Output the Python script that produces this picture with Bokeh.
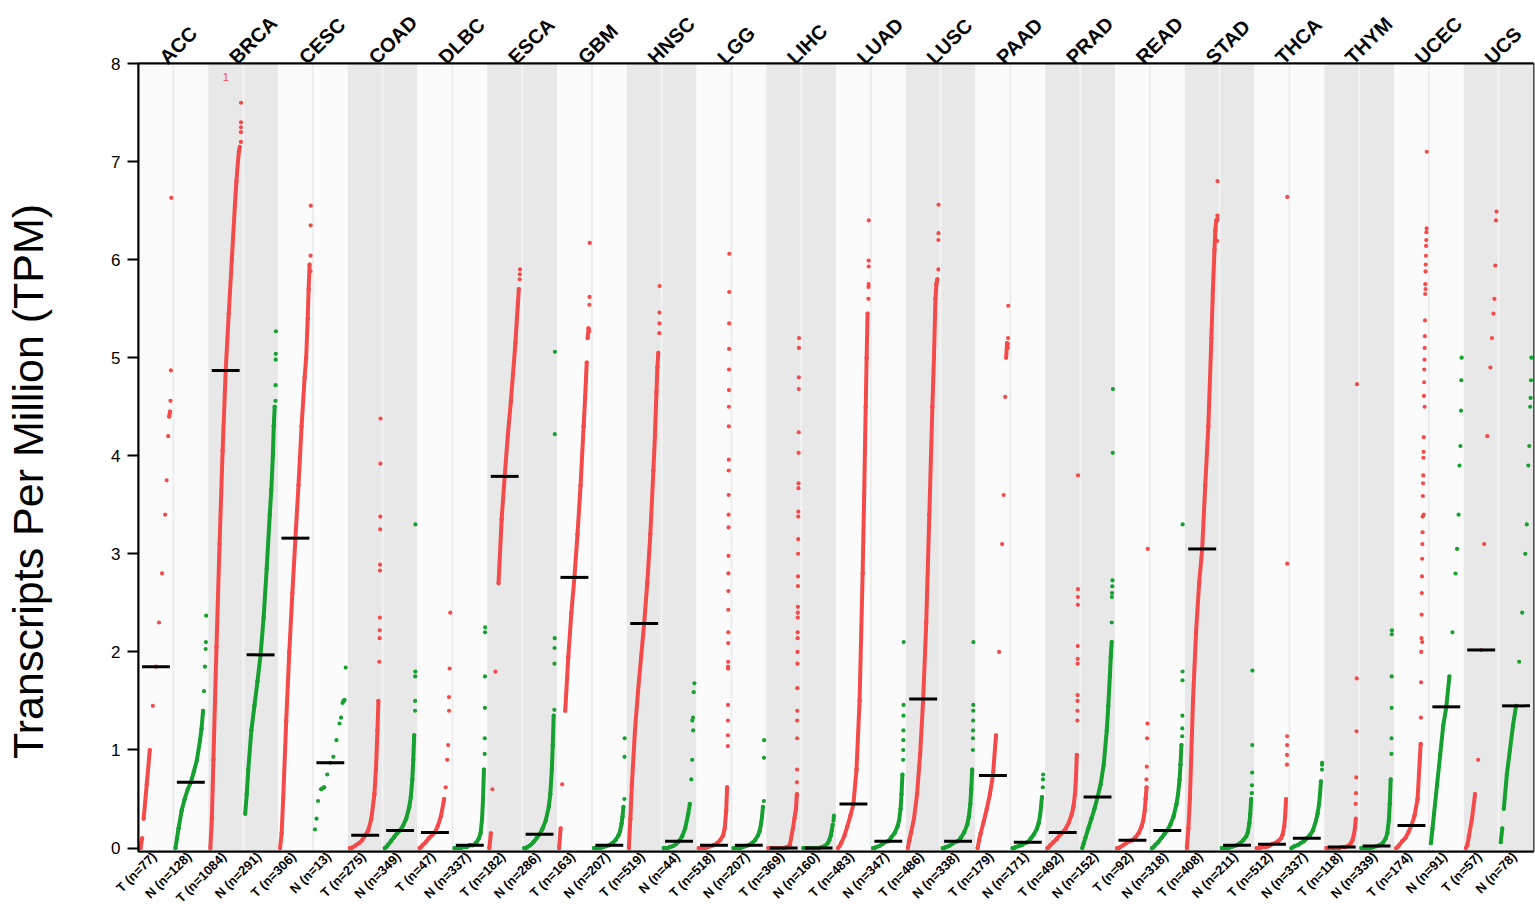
from math import pi
from bokeh.plotting import figure
from bokeh.models import FixedTicker, LinearAxis, Range1d
from bokeh.embed import file_html
from bokeh.resources import INLINE

cancers = ["ACC", "BRCA", "CESC", "COAD", "DLBC", "ESCA", "GBM", "HNSC", "LGG", "LIHC",
           "LUAD", "LUSC", "PAAD", "PRAD", "READ", "STAD", "THCA", "THYM", "UCEC", "UCS"]
n_tumor = [77, 1084, 306, 275, 47, 182, 163, 519, 518, 369, 483, 486, 179, 492, 92, 408, 512, 118, 174, 57]
n_normal = [128, 291, 13, 349, 337, 286, 207, 44, 207, 160, 347, 338, 171, 152, 318, 211, 337, 339, 91, 78]
median_tumor = [1.85, 4.87, 3.16, 0.13, 0.16, 3.79, 2.76, 2.29, 0.03, 0.0, 0.45, 1.52, 0.74, 0.16, 0.08, 3.05, 0.04, 0.01, 0.23, 2.02]
median_normal = [0.67, 1.97, 0.87, 0.18, 0.03, 0.14, 0.03, 0.07, 0.03, 0.0, 0.07, 0.07, 0.06, 0.52, 0.18, 0.03, 0.1, 0.02, 1.44, 1.45]

rank_fracs = [0, 0.05, 0.1, 0.2, 0.3, 0.4, 0.5, 0.6, 0.7, 0.8, 0.85, 0.9, 0.93, 0.96]

ACC_T = [0, 0.1, 0.3, 0.65, 1.0, 1.45, 1.85, 2.3, 2.8, 3.4, 3.75, 4.2, 4.4, 4.45]
ACC_T_top = [6.63, 4.87, 4.56]
ACC_N = [0, 0.1, 0.2, 0.38, 0.5, 0.6, 0.67, 0.78, 0.9, 1.1, 1.22, 1.4, 1.6, 1.85]
ACC_N_top = [2.37, 2.1, 2.03]
BRCA_T = [0, 0.3, 0.9, 2.05, 3.1, 4.05, 4.87, 5.45, 6.0, 6.55, 6.8, 7.0, 7.1, 7.15]
BRCA_T_top = [7.6, 7.4, 7.35, 7.3, 7.2]
BRCA_N = [0.35, 0.55, 0.8, 1.2, 1.45, 1.7, 1.97, 2.35, 2.85, 3.4, 3.65, 4.0, 4.3, 4.5]
BRCA_N_top = [5.27, 5.04, 4.98, 4.72, 4.56]
CESC_T = [0, 0.15, 0.5, 1.3, 2.0, 2.6, 3.16, 3.7, 4.3, 4.8, 5.0, 5.4, 5.7, 5.95]
CESC_T_top = [6.55, 6.35, 6.04, 5.88]
CESC_N = [0.19, 0.3, 0.48, 0.6, 0.62, 0.75, 0.87, 0.93, 1.1, 1.27, 1.33, 1.48, 1.5, 1.51]
CESC_N_top = [1.84]
COAD_T = [0, 0, 0.01, 0.03, 0.05, 0.08, 0.13, 0.18, 0.3, 0.55, 0.8, 1.2, 1.5, 1.9]
COAD_T_top = [4.38, 3.92, 3.38, 3.25, 2.89, 2.83, 2.35, 2.22, 2.14]
COAD_N = [0, 0.01, 0.03, 0.07, 0.11, 0.15, 0.18, 0.23, 0.3, 0.42, 0.52, 0.7, 0.9, 1.15]
COAD_N_top = [3.3, 1.8, 1.75, 1.5, 1.4]
DLBC_T = [0, 0.01, 0.03, 0.06, 0.1, 0.13, 0.16, 0.23, 0.33, 0.5, 0.62, 0.9, 1.05, 1.4]
DLBC_T_top = [2.4, 1.83, 1.54]
DLBC_N = [0, 0, 0, 0, 0.01, 0.01, 0.03, 0.03, 0.05, 0.1, 0.15, 0.3, 0.5, 0.8]
DLBC_N_top = [2.25, 2.2, 1.75, 1.43, 1.12, 0.96]
ESCA_T = [0, 0.15, 0.6, 1.8, 2.7, 3.35, 3.79, 4.2, 4.55, 4.95, 5.15, 5.4, 5.55, 5.7]
ESCA_T_top = [5.9, 5.85, 5.8]
ESCA_N = [0, 0, 0.01, 0.03, 0.06, 0.1, 0.14, 0.2, 0.28, 0.42, 0.55, 0.8, 1.05, 1.35]
ESCA_N_top = [5.06, 4.22, 2.14, 2.04, 1.88, 1.41]
GBM_T = [0, 0.2, 0.65, 1.4, 1.95, 2.4, 2.76, 3.2, 3.7, 4.3, 4.6, 4.95, 5.2, 5.3]
GBM_T_top = [6.17, 5.62, 5.54, 5.27]
GBM_N = [0, 0, 0, 0, 0.01, 0.02, 0.03, 0.05, 0.08, 0.13, 0.17, 0.25, 0.32, 0.42]
GBM_N_top = [1.12, 0.93, 0.5]
HNSC_T = [0, 0.3, 0.65, 1.2, 1.6, 1.95, 2.29, 2.7, 3.2, 3.85, 4.2, 4.65, 4.9, 5.05]
HNSC_T_top = [5.73, 5.46, 5.35, 5.25]
HNSC_N = [0, 0, 0, 0.01, 0.02, 0.04, 0.07, 0.12, 0.2, 0.35, 0.45, 0.7, 0.9, 1.2]
HNSC_N_top = [1.68, 1.59, 1.33, 1.3]
LGG_T = [0, 0, 0, 0, 0.01, 0.02, 0.03, 0.05, 0.08, 0.13, 0.2, 0.38, 0.62, 1.85]
LGG_T_top = [6.06, 5.67, 5.35, 5.09, 4.88, 4.67, 4.5, 4.3, 3.96, 3.85, 3.6, 3.4, 3.27,
             2.98, 2.8, 2.62, 2.43, 2.2, 2.09, 1.9, 1.83, 1.46, 1.3, 1.15, 1.04]
LGG_N = [0, 0, 0, 0, 0.01, 0.02, 0.03, 0.05, 0.08, 0.13, 0.17, 0.25, 0.32, 0.42]
LGG_N_top = [1.1, 0.92, 0.48]
LIHC_T = [0, 0, 0, 0, 0, 0, 0, 0.01, 0.03, 0.2, 0.3, 0.4, 0.55, 2.4]
LIHC_T_top = [5.2, 5.1, 4.8, 4.68, 4.24, 4.03, 3.72, 3.67, 3.43, 3.38, 3.15, 3.0, 2.77, 2.67,
              2.46, 2.35, 2.2, 2.14, 2.0, 1.88, 1.63, 1.4, 1.3, 1.12, 0.8, 0.67, 0.54]
LIHC_N = [0, 0, 0, 0, 0, 0, 0, 0.01, 0.02, 0.05, 0.08, 0.13, 0.18, 0.24]
LIHC_N_top = [0.33, 0.31, 0.28]
LUAD_T = [0, 0.02, 0.05, 0.12, 0.22, 0.33, 0.45, 0.8, 1.5, 2.8, 3.6, 4.5, 5.0, 5.45]
LUAD_T_top = [6.4, 5.99, 5.93, 5.75, 5.72, 5.6]
LUAD_N = [0, 0, 0.01, 0.02, 0.04, 0.06, 0.07, 0.11, 0.15, 0.22, 0.28, 0.4, 0.55, 0.75]
LUAD_N_top = [2.1, 1.46, 1.35, 1.2, 1.1, 1.0, 0.9]
LUSC_T = [0, 0.08, 0.15, 0.3, 0.55, 0.95, 1.52, 2.3, 3.4, 4.5, 5.0, 5.6, 5.75, 5.8]
LUSC_T_top = [6.56, 6.27, 6.2, 5.9]
LUSC_N = [0, 0, 0.01, 0.02, 0.04, 0.06, 0.07, 0.11, 0.16, 0.24, 0.32, 0.45, 0.6, 0.8]
LUSC_N_top = [2.1, 1.46, 1.4, 1.3, 1.2, 1.12, 1.0]
PAAD_T = [0, 0.08, 0.15, 0.27, 0.4, 0.55, 0.74, 1.15, 2.0, 3.1, 3.6, 4.6, 5.0, 5.15]
PAAD_T_top = [5.53, 5.2, 5.14, 5.1]
PAAD_N = [0, 0, 0.01, 0.02, 0.03, 0.05, 0.06, 0.1, 0.14, 0.2, 0.25, 0.33, 0.42, 0.52]
PAAD_N_top = [0.75, 0.7, 0.62]
PRAD_T = [0, 0.01, 0.03, 0.06, 0.09, 0.13, 0.16, 0.2, 0.26, 0.35, 0.42, 0.55, 0.7, 0.95]
PRAD_T_top = [3.8, 2.64, 2.56, 2.48, 2.06, 1.93, 1.88, 1.56, 1.5, 1.4, 1.3]
PRAD_N = [0, 0.05, 0.1, 0.2, 0.3, 0.4, 0.52, 0.65, 0.85, 1.2, 1.45, 1.75, 1.95, 2.1]
PRAD_N_top = [4.68, 4.03, 2.73, 2.67, 2.6, 2.56, 2.3]
READ_T = [0, 0, 0.01, 0.03, 0.05, 0.07, 0.08, 0.11, 0.15, 0.22, 0.28, 0.38, 0.5, 0.62]
READ_T_top = [3.05, 1.27, 1.12, 0.83, 0.7]
READ_N = [0, 0.01, 0.03, 0.06, 0.1, 0.14, 0.18, 0.24, 0.32, 0.45, 0.55, 0.7, 0.85, 1.05]
READ_N_top = [3.3, 1.8, 1.71, 1.35, 1.22, 1.14]
STAD_T = [0, 0.2, 0.5, 1.5, 2.2, 2.7, 3.05, 3.7, 4.3, 5.2, 5.7, 6.1, 6.3, 6.4]
STAD_T_top = [6.8, 6.45, 6.42, 6.4, 6.19]
STAD_N = [0, 0, 0, 0, 0.01, 0.02, 0.03, 0.05, 0.08, 0.12, 0.16, 0.25, 0.35, 0.5]
STAD_N_top = [1.81, 1.05, 0.77, 0.64, 0.56]
THCA_T = [0, 0, 0, 0.01, 0.01, 0.02, 0.04, 0.05, 0.07, 0.1, 0.14, 0.22, 0.32, 0.5]
THCA_T_top = [6.64, 2.9, 1.14, 1.05, 0.95, 0.85]
THCA_N = [0, 0.01, 0.02, 0.03, 0.05, 0.07, 0.1, 0.13, 0.18, 0.28, 0.35, 0.45, 0.55, 0.68]
THCA_N_top = [0.87, 0.85, 0.8]
THYM_T = [0, 0, 0, 0, 0, 0, 0.01, 0.01, 0.02, 0.05, 0.08, 0.14, 0.2, 0.3]
THYM_T_top = [4.73, 1.73, 1.19, 0.72, 0.56, 0.45]
THYM_N = [0, 0, 0, 0, 0, 0.01, 0.02, 0.03, 0.05, 0.1, 0.15, 0.28, 0.45, 0.7]
THYM_N_top = [2.22, 2.18, 1.75, 1.43, 1.12, 0.96]
UCEC_T = [0, 0.01, 0.03, 0.07, 0.1, 0.16, 0.23, 0.33, 0.5, 1.06, 2.1, 3.4, 4.5, 5.7]
UCEC_T_top = [7.1, 6.32, 6.28, 6.2, 6.14, 6.04, 5.95, 5.88, 5.75, 5.65, 5.38, 5.22, 5.1, 4.98,
              4.88, 4.75, 4.61, 4.19, 4.04, 3.98, 3.8, 3.72, 3.59, 3.38, 3.22, 3.1, 2.95,
              2.77, 2.6, 2.38, 2.14, 2.0, 1.69, 1.33, 1.06]
UCEC_N = [0.05, 0.2, 0.35, 0.65, 0.95, 1.25, 1.44, 1.75, 2.2, 2.8, 3.05, 3.4, 3.9, 4.1]
UCEC_N_top = [5.0, 4.77, 4.46]
UCS_T = [0, 0.03, 0.12, 0.3, 0.55, 0.9, 2.02, 3.1, 4.2, 4.9, 5.2, 5.45, 5.6, 5.94]
UCS_T_top = [6.49, 6.4]
UCS_N = [0.06, 0.2, 0.4, 0.75, 1.0, 1.25, 1.45, 1.9, 2.4, 3.0, 3.3, 3.9, 4.1, 4.5]
UCS_N_top = [5.0, 4.77, 4.59]

off_scale_group = "BRCA"
off_scale_count = 1
y_ticks = [0, 1, 2, 3, 4, 5, 6, 7, 8]
y_title = "Transcripts Per Million (TPM)"

tumor_vals = [globals()[c + "_T"] for c in cancers]
tumor_top = [globals()[c + "_T_top"] for c in cancers]
normal_vals = [globals()[c + "_N"] for c in cancers]
normal_top = [globals()[c + "_N_top"] for c in cancers]

RED = "#F44A4A"
GREEN = "#16A030"
BG_LIGHT = "#FBFBFB"
BG_GREY = "#E8E8E8"
FONT = "Liberation Sans"

Y0, Y1 = -0.035, 8.0
W, H = 1535, 915
BORDER_L, BORDER_T, BORDER_R, BORDER_B = 138, 63, 2, 64
px_per_unit = (H - BORDER_T - BORDER_B) / (Y1 - Y0)

p = figure(width=W, height=H, output_backend="svg", toolbar_location=None,
           x_range=Range1d(0, 2 * len(cancers)), y_range=Range1d(Y0, Y1),
           min_border_left=BORDER_L, min_border_top=BORDER_T,
           min_border_right=BORDER_R, min_border_bottom=BORDER_B,
           background_fill_color="white", border_fill_color="white")
p.grid.visible = False
p.outline_line_color = "#222222"
p.outline_line_width = 2

# column backgrounds
nc = len(cancers)
p.quad(left=[2 * c for c in range(nc)], right=[2 * c + 2 for c in range(nc)],
       bottom=Y0, top=Y1, line_color=None,
       fill_color=[BG_LIGHT if c % 2 == 0 else BG_GREY for c in range(nc)])
p.segment(x0=[2 * c + 1 for c in range(nc)], x1=[2 * c + 1 for c in range(nc)],
          y0=Y0, y1=Y1, line_width=2,
          line_color=["#EDEDED" if c % 2 == 0 else "#F3F3F3" for c in range(nc)])

# points
dot_x, dot_y, dot_c = [], [], []
sx0, sy0, sx1, sy1, sc = [], [], [], [], []
mx0, mx1, my = [], [], []
tick_pos, tick_lab = [], []
for c in range(nc):
    groups = [("T", n_tumor[c], tumor_vals[c], tumor_top[c], median_tumor[c], RED),
              ("N", n_normal[c], normal_vals[c], normal_top[c], median_normal[c], GREEN)]
    for k, (lab, n, vals, top, med, col) in enumerate(groups):
        s = 2 * c + k
        xs = [s + 0.06 + 0.88 * f for f in rank_fracs]
        for x, v in zip(xs, vals):
            dot_x.append(x); dot_y.append(v); dot_c.append(col)
        for i, v in enumerate(top):
            r = 1 - i / (n - 1)
            dot_x.append(s + 0.06 + 0.88 * r); dot_y.append(v); dot_c.append(col)
        for i in range(len(vals) - 1):
            dF = rank_fracs[i + 1] - rank_fracs[i]
            gap_px = (vals[i + 1] - vals[i]) * px_per_unit / (n * dF)
            if gap_px < 4.5:
                sx0.append(xs[i]); sx1.append(xs[i + 1])
                sy0.append(vals[i]); sy1.append(vals[i + 1]); sc.append(col)
        mx0.append(s + 0.1); mx1.append(s + 0.9); my.append(med)
        tick_pos.append(round(s + 0.45, 3))
        tick_lab.append(f"{lab} (n={n})")

p.segment(x0=sx0, y0=sy0, x1=sx1, y1=sy1, line_color=sc, line_width=4, line_cap="round")
p.scatter(x=dot_x, y=dot_y, size=4.2, fill_color=dot_c, line_color=None)
p.segment(x0=mx0, x1=mx1, y0=my, y1=my, line_color="black", line_width=3)

og = cancers.index(off_scale_group)
p.text(x=[2 * og + 0.5], y=[7.86], text=[str(off_scale_count)], text_color=RED,
       text_font_size="11px", text_align="center", text_baseline="middle")

# y axis
ya = p.yaxis[0]
ya.ticker = FixedTicker(ticks=y_ticks)
ya.minor_tick_line_color = None
ya.major_tick_in = 0
ya.major_tick_out = 11
ya.major_tick_line_width = 2
ya.axis_line_width = 2
ya.major_label_standoff = 7
ya.major_label_text_font = FONT
ya.major_label_text_font_size = "17px"
ya.major_label_text_color = "black"
# title sits a little below the frame centre in the original; trailing
# no-break spaces move its visible part down
ya.axis_label = y_title + "\u00a0" * 4
ya.axis_label_standoff = 56
ya.axis_label_text_font = FONT
ya.axis_label_text_font_size = "43px"
ya.axis_label_text_font_style = "normal"
ya.axis_label_text_color = "black"

# bottom axis (group labels)
xa = p.xaxis[0]
xa.ticker = FixedTicker(ticks=tick_pos)
xa.major_label_overrides = {t: l for t, l in zip(tick_pos, tick_lab)}
xa.major_label_orientation = pi / 4
xa.major_tick_line_color = None
xa.minor_tick_line_color = None
xa.major_tick_out = 0
xa.major_label_standoff = 3
xa.axis_line_width = 2
xa.major_label_text_font = FONT
xa.major_label_text_font_size = "13px"
xa.major_label_text_font_style = "bold"
xa.major_label_text_color = "black"

# top axis (cancer names)
top_pos = [round(2 * c + 1 - 0.3, 3) for c in range(nc)]
ta = LinearAxis(ticker=FixedTicker(ticks=top_pos),
                major_label_overrides={t: l for t, l in zip(top_pos, cancers)})
ta.major_label_orientation = pi / 4
ta.major_tick_line_color = None
ta.minor_tick_line_color = None
ta.major_tick_out = 0
ta.major_label_standoff = 3
ta.axis_line_width = 2
ta.major_label_text_font = FONT
ta.major_label_text_font_size = "20px"
ta.major_label_text_font_style = "bold"
ta.major_label_text_color = "black"
p.add_layout(ta, "above")

open("out.html", "w").write(file_html(p, INLINE))
